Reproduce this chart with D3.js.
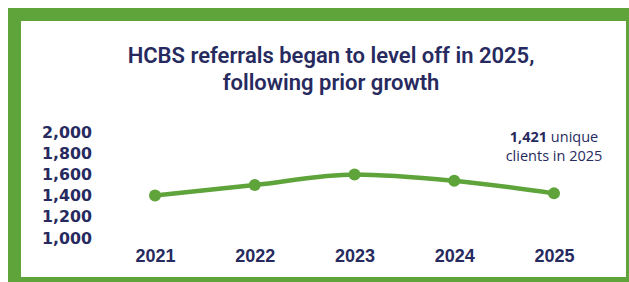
<!DOCTYPE html>
<html>
<head>
<meta charset="utf-8">
<script src="https://cdn.jsdelivr.net/npm/d3@7"></script>
<style>
  html, body { margin: 0; padding: 0; background: #ffffff; }
  svg { display: block; }
</style>
</head>
<body>
<svg id="chart" width="629" height="282"></svg>
<script>
const years = ["2021", "2022", "2023", "2024", "2025"];
const referrals = [1400, 1500, 1600, 1540, 1421];
const yTicks = [1000, 1200, 1400, 1600, 1800, 2000];
const titleLines = ["HCBS referrals began to level off in 2025,", "following prior growth"];
const noteBold = "1,421";
const noteRest = " unique";
const noteLine2 = "clients in 2025";

const green = "#5fa33b";
const navy = "#272a5e";

const svg = d3.select("#chart");

// Frame
svg.append("rect").attr("x", 8).attr("y", 8).attr("width", 629 - 8).attr("height", 282 - 8).attr("fill", green);
svg.append("rect").attr("x", 21).attr("y", 21).attr("width", 626 - 21).attr("height", 277 - 21).attr("fill", "#ffffff");

// Title
svg.append("g").selectAll("text").data(titleLines).join("text")
  .attr("x", 331)
  .attr("y", (d, i) => 63 + i * 27)
  .attr("text-anchor", "middle")
  .attr("font-family", "Roboto, 'Noto Sans', sans-serif")
  .attr("font-weight", 600)
  .attr("font-size", 22)
  .attr("fill", navy)
  .text(d => d);

// Scales
const x = d3.scalePoint().domain(years).range([155, 554]);
const y = d3.scaleLinear().domain([1000, 2000]).range([238, 132]);

// Y axis (labels only)
const yAxis = d3.axisLeft(y).tickValues(yTicks).tickFormat(d3.format(",")).tickSize(0).tickPadding(0);
const yg = svg.append("g").attr("transform", "translate(92,0)").call(yAxis);
yg.select(".domain").remove();
yg.selectAll("text")
  .attr("font-family", "'DejaVu Sans', sans-serif")
  .attr("font-weight", "bold")
  .attr("font-size", 15.8)
  .attr("fill", navy);

// X axis (labels only)
const xAxis = d3.axisBottom(x).tickSize(0).tickPadding(0);
const xg = svg.append("g").attr("transform", "translate(0,249)").call(xAxis);
xg.select(".domain").remove();
xg.selectAll("text")
  .attr("font-family", "'Liberation Sans', Arial, sans-serif")
  .attr("font-weight", "bold")
  .attr("font-size", 18)
  .attr("fill", navy);

// Line
const data = years.map((yr, i) => ({ yr, v: referrals[i] }));
const line = d3.line().x(d => x(d.yr)).y(d => y(d.v)).curve(d3.curveMonotoneX);
svg.append("path").datum(data)
  .attr("d", line)
  .attr("fill", "none")
  .attr("stroke", green)
  .attr("stroke-width", 4.5)
  .attr("stroke-linecap", "round");

svg.append("g").selectAll("circle").data(data).join("circle")
  .attr("cx", d => x(d.yr))
  .attr("cy", d => y(d.v))
  .attr("r", 6)
  .attr("fill", green);

// Annotation
const note = svg.append("g").attr("font-family", "'Open Sans', 'Noto Sans', sans-serif").attr("font-size", 14.5).attr("fill", navy).attr("text-anchor", "middle");
const t1 = note.append("text").attr("x", 554).attr("y", 142);
t1.append("tspan").attr("font-weight", "bold").text(noteBold);
t1.append("tspan").text(noteRest);
note.append("text").attr("x", 554).attr("y", 161).text(noteLine2);
</script>
</body>
</html>
